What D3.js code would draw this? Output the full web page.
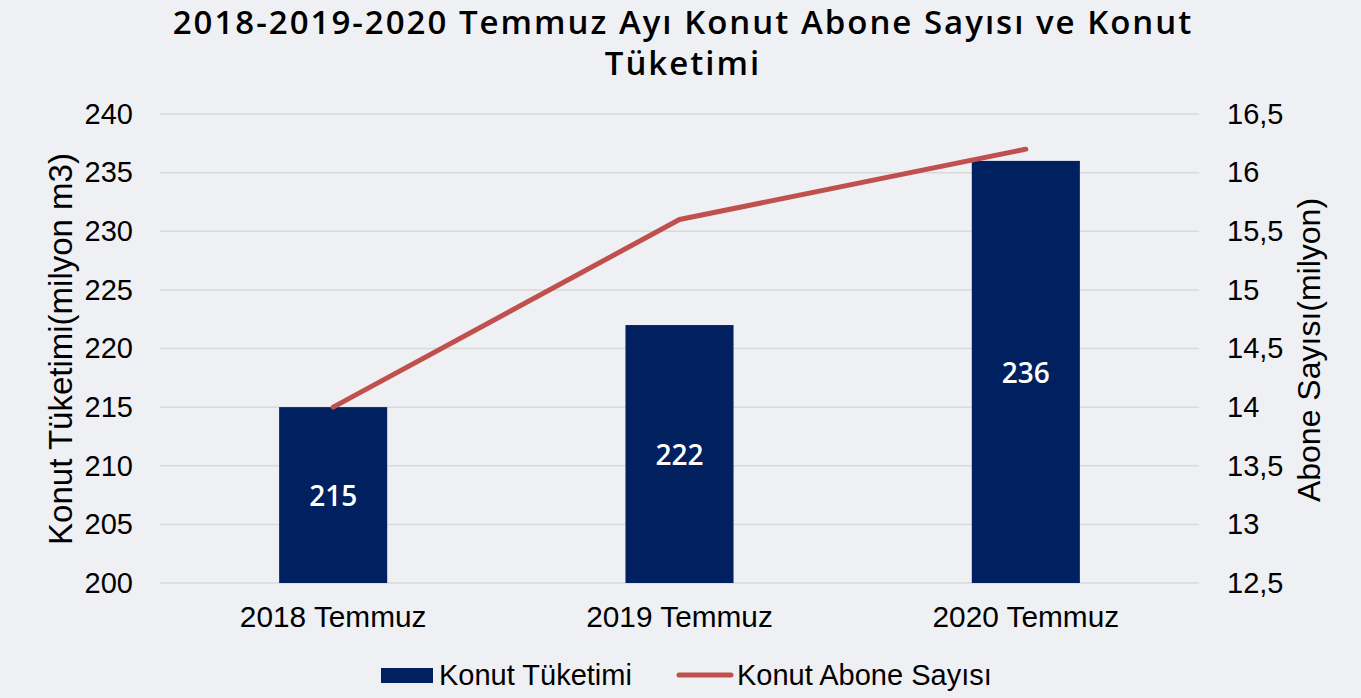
<!DOCTYPE html>
<html>
<head>
<meta charset="utf-8">
<script src="https://cdn.jsdelivr.net/npm/d3@7"></script>
<style>
  html, body { margin: 0; padding: 0; background: #eff0f4; }
  svg { display: block; }
</style>
</head>
<body>
<svg id="chart" width="1361" height="698"></svg>
<script>
// ---- data ----
const categories = ["2018 Temmuz", "2019 Temmuz", "2020 Temmuz"];
const consumption = [215, 222, 236];          // Konut Tüketimi (milyon m3)
const subscribers = [14.0, 15.6, 16.2];       // Konut Abone Sayısı (milyon)
const leftTicks = [200, 205, 210, 215, 220, 225, 230, 235, 240];
const rightTicks = [12.5, 13, 13.5, 14, 14.5, 15, 15.5, 16, 16.5];
const titleLines = ["2018-2019-2020 Temmuz Ayı Konut Abone Sayısı ve Konut", "Tüketimi"];
const leftTitle = "Konut Tüketimi(milyon m3)";
const rightTitle = "Abone Sayısı(milyon)";
const seriesNames = ["Konut Tüketimi", "Konut Abone Sayısı"];

// ---- styles ----
const BAR = "#002060", LINE = "#c0504d", GRID = "#d9d9d9";
const ARIAL = "'Liberation Sans', Arial, sans-serif";
const GEO = "'Open Sans', 'Noto Sans', sans-serif";

const svg = d3.select("#chart");
const plot = { left: 160, right: 1199, top: 114, bottom: 583 };

const x = d3.scaleBand().domain(categories).range([plot.left, plot.right])
  .paddingInner(0.688).paddingOuter(0.344);
const yL = d3.scaleLinear().domain([200, 240]).range([plot.bottom, plot.top]);
const yR = d3.scaleLinear().domain([12.5, 16.5]).range([plot.bottom, plot.top]);

// title
svg.append("g").selectAll("text").data(titleLines).join("text")
  .attr("x", 683).attr("y", (d, i) => 34 + i * 41)
  .attr("text-anchor", "middle")
  .style("font-family", GEO).style("font-weight", 600).style("font-size", "33px")
  .style("letter-spacing", "2px")
  .style("fill", "#000").text(d => d);

// gridlines
svg.append("g").selectAll("line").data(leftTicks).join("line")
  .attr("x1", plot.left).attr("x2", plot.right)
  .attr("y1", d => yL(d)).attr("y2", d => yL(d))
  .attr("stroke", GRID).attr("stroke-width", 1.5);

// left axis
const axL = d3.axisLeft(yL).tickValues(leftTicks).tickSize(0).tickPadding(0).tickFormat(d3.format("d"));
const gL = svg.append("g").attr("transform", "translate(133,0)").call(axL);
gL.select(".domain").remove();
gL.selectAll("text").style("font-family", ARIAL).style("font-size", "29px").style("fill", "#000");

// right axis
const fmtR = d => String(d).replace(".", ",");
const axR = d3.axisRight(yR).tickValues(rightTicks).tickSize(0).tickPadding(0).tickFormat(fmtR);
const gR = svg.append("g").attr("transform", "translate(1227,0)").call(axR);
gR.select(".domain").remove();
gR.selectAll("text").style("font-family", ARIAL).style("font-size", "29px").style("fill", "#000");

// x axis
const axX = d3.axisBottom(x).tickSize(0).tickPadding(0);
const gX = svg.append("g").attr("transform", `translate(0,${plot.bottom + 23})`).call(axX);
gX.select(".domain").remove();
gX.selectAll("text").attr("dy", "0.71em").style("font-family", ARIAL).style("font-size", "29.8px").style("fill", "#000");

// bars
svg.append("g").selectAll("rect").data(consumption).join("rect")
  .attr("x", (d, i) => x(categories[i]))
  .attr("width", x.bandwidth())
  .attr("y", d => yL(d))
  .attr("height", d => yL(200) - yL(d))
  .attr("fill", BAR);

// bar labels
svg.append("g").selectAll("text").data(consumption).join("text")
  .attr("x", (d, i) => x(categories[i]) + x.bandwidth() / 2)
  .attr("y", d => (yL(d) + yL(200)) / 2)
  .attr("dy", "0.4em")
  .attr("text-anchor", "middle")
  .style("font-family", GEO).style("font-weight", 600).style("font-size", "28px")
  .style("fill", "#fff").text(d => d);

// line
const line = d3.line()
  .x((d, i) => x(categories[i]) + x.bandwidth() / 2)
  .y(d => yR(d));
svg.append("path").datum(subscribers)
  .attr("d", line).attr("fill", "none")
  .attr("stroke", LINE).attr("stroke-width", 5)
  .attr("stroke-linecap", "round").attr("stroke-linejoin", "round");

// axis titles
svg.append("text").attr("transform", "translate(72,349) rotate(-90)")
  .attr("text-anchor", "middle")
  .style("font-family", ARIAL).style("font-size", "33px").style("fill", "#000")
  .text(leftTitle);
svg.append("text").attr("transform", "translate(1320,350) rotate(-90)")
  .attr("text-anchor", "middle")
  .style("font-family", ARIAL).style("font-size", "32px").style("fill", "#000")
  .text(rightTitle);

// legend
const lg = svg.append("g");
lg.append("rect").attr("x", 381).attr("y", 668).attr("width", 52).attr("height", 15).attr("fill", BAR);
lg.append("text").attr("x", 439).attr("y", 685)
  .style("font-family", ARIAL).style("font-size", "29px").style("fill", "#000").text(seriesNames[0]);
lg.append("line").attr("x1", 679).attr("x2", 731).attr("y1", 675).attr("y2", 675)
  .attr("stroke", LINE).attr("stroke-width", 5).attr("stroke-linecap", "round");
lg.append("text").attr("x", 737).attr("y", 685)
  .style("font-family", ARIAL).style("font-size", "29px").style("fill", "#000").text(seriesNames[1]);
</script>
</body>
</html>
